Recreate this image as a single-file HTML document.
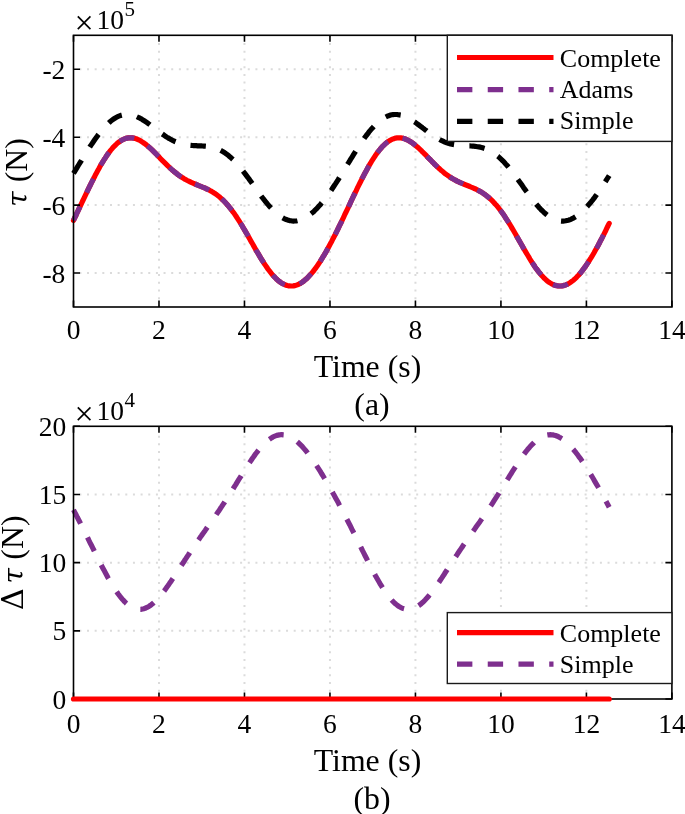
<!DOCTYPE html>
<html><head><meta charset="utf-8"><title>Figure</title>
<style>
html,body{margin:0;padding:0;background:#fff}
svg{display:block}
text{font-family:"Liberation Serif","Times New Roman",serif;fill:#000}
.t{font-size:27.5px}
.lt{font-size:26px}
.l{font-size:31.8px}
.tau{font-family:'DejaVu Serif',serif;font-style:italic;font-size:28px}
.dl{font-family:'DejaVu Serif',serif;font-size:30.5px}
.g{stroke:#dbdbdb;stroke-width:2;fill:none}
.ax{fill:none;stroke:#000;stroke-width:1.6}
.tk{fill:none;stroke:#000;stroke-width:1.6}
.c{fill:none;stroke-width:5.2;stroke-linejoin:round}
.lg{fill:#fff;stroke:#1a1a1a;stroke-width:1.4}
</style></head><body>
<svg width="685" height="814" viewBox="0 0 685 814">
<rect width="685" height="814" fill="#fff"/>
<!-- plot a -->
<line x1="158.99" y1="35.3" x2="158.99" y2="307.0" class="g" stroke-dasharray="2 5.7" stroke-dashoffset="7.6"/>
<line x1="244.47" y1="35.3" x2="244.47" y2="307.0" class="g" stroke-dasharray="2 5.7" stroke-dashoffset="7.6"/>
<line x1="329.96" y1="35.3" x2="329.96" y2="307.0" class="g" stroke-dasharray="2 5.7" stroke-dashoffset="7.6"/>
<line x1="415.44" y1="35.3" x2="415.44" y2="307.0" class="g" stroke-dasharray="2 5.7" stroke-dashoffset="7.6"/>
<line x1="500.93" y1="35.3" x2="500.93" y2="307.0" class="g" stroke-dasharray="2 5.7" stroke-dashoffset="7.6"/>
<line x1="586.41" y1="35.3" x2="586.41" y2="307.0" class="g" stroke-dasharray="2 5.7" stroke-dashoffset="7.6"/>
<line x1="73.5" y1="69.26" x2="671.9" y2="69.26" class="g" stroke-dasharray="2 5.655" stroke-dashoffset="1.8"/>
<line x1="73.5" y1="137.19" x2="671.9" y2="137.19" class="g" stroke-dasharray="2 5.655" stroke-dashoffset="1.8"/>
<line x1="73.5" y1="205.11" x2="671.9" y2="205.11" class="g" stroke-dasharray="2 5.655" stroke-dashoffset="1.8"/>
<line x1="73.5" y1="273.04" x2="671.9" y2="273.04" class="g" stroke-dasharray="2 5.655" stroke-dashoffset="1.8"/>
<polyline points="73.5,220.4 74.8,217.7 76.1,215.0 77.3,212.3 78.6,209.6 79.9,206.9 81.2,204.2 82.4,201.5 83.7,198.8 85.0,196.1 86.3,193.4 87.6,190.7 88.8,188.1 90.1,185.5 91.4,182.9 92.7,180.3 94.0,177.8 95.2,175.3 96.5,172.9 97.8,170.5 99.1,168.2 100.3,165.9 101.6,163.7 102.9,161.6 104.2,159.5 105.5,157.6 106.7,155.7 108.0,153.8 109.3,152.1 110.6,150.4 111.9,148.9 113.1,147.4 114.4,146.1 115.7,144.8 117.0,143.6 118.2,142.6 119.5,141.6 120.8,140.8 122.1,140.0 123.4,139.4 124.6,138.9 125.9,138.4 127.2,138.1 128.5,137.9 129.8,137.8 131.0,137.8 132.3,137.9 133.6,138.1 134.9,138.4 136.1,138.8 137.4,139.3 138.7,139.9 140.0,140.5 141.3,141.3 142.5,142.1 143.8,143.0 145.1,143.9 146.4,144.9 147.7,146.0 148.9,147.1 150.2,148.2 151.5,149.4 152.8,150.7 154.0,151.9 155.3,153.2 156.6,154.5 157.9,155.8 159.2,157.1 160.4,158.5 161.7,159.8 163.0,161.1 164.3,162.4 165.6,163.7 166.8,164.9 168.1,166.2 169.4,167.4 170.7,168.6 171.9,169.7 173.2,170.8 174.5,171.9 175.8,172.9 177.1,173.9 178.3,174.9 179.6,175.8 180.9,176.7 182.2,177.5 183.5,178.3 184.7,179.1 186.0,179.8 187.3,180.5 188.6,181.1 189.8,181.8 191.1,182.3 192.4,182.9 193.7,183.5 195.0,184.0 196.2,184.5 197.5,185.0 198.8,185.6 200.1,186.1 201.4,186.6 202.6,187.1 203.9,187.6 205.2,188.2 206.5,188.8 207.7,189.4 209.0,190.0 210.3,190.7 211.6,191.4 212.9,192.2 214.1,193.0 215.4,193.8 216.7,194.7 218.0,195.7 219.3,196.7 220.5,197.8 221.8,199.0 223.1,200.2 224.4,201.5 225.6,202.8 226.9,204.2 228.2,205.7 229.5,207.3 230.8,208.9 232.0,210.6 233.3,212.3 234.6,214.1 235.9,216.0 237.1,217.9 238.4,219.9 239.7,221.9 241.0,224.0 242.3,226.1 243.5,228.2 244.8,230.4 246.1,232.6 247.4,234.8 248.7,237.1 249.9,239.3 251.2,241.6 252.5,243.8 253.8,246.1 255.0,248.3 256.3,250.6 257.6,252.7 258.9,254.9 260.2,257.1 261.4,259.1 262.7,261.2 264.0,263.2 265.3,265.1 266.6,267.0 267.8,268.8 269.1,270.5 270.4,272.2 271.7,273.8 272.9,275.3 274.2,276.7 275.5,278.0 276.8,279.3 278.1,280.4 279.3,281.4 280.6,282.4 281.9,283.2 283.2,283.9 284.5,284.5 285.7,285.0 287.0,285.5 288.3,285.8 289.6,285.9 290.8,286.0 292.1,286.0 293.4,285.9 294.7,285.6 296.0,285.3 297.2,284.9 298.5,284.3 299.8,283.7 301.1,282.9 302.4,282.1 303.6,281.2 304.9,280.1 306.2,279.0 307.5,277.8 308.7,276.5 310.0,275.1 311.3,273.7 312.6,272.1 313.9,270.5 315.1,268.8 316.4,267.1 317.7,265.2 319.0,263.3 320.3,261.4 321.5,259.3 322.8,257.2 324.1,255.1 325.4,252.9 326.6,250.7 327.9,248.4 329.2,246.0 330.5,243.6 331.8,241.2 333.0,238.7 334.3,236.2 335.6,233.7 336.9,231.1 338.2,228.5 339.4,225.9 340.7,223.3 342.0,220.6 343.3,217.9 344.5,215.2 345.8,212.5 347.1,209.8 348.4,207.1 349.7,204.3 350.9,201.6 352.2,198.9 353.5,196.2 354.8,193.5 356.1,190.9 357.3,188.2 358.6,185.6 359.9,183.0 361.2,180.5 362.4,177.9 363.7,175.5 365.0,173.0 366.3,170.7 367.6,168.3 368.8,166.1 370.1,163.9 371.4,161.7 372.7,159.7 374.0,157.7 375.2,155.8 376.5,153.9 377.8,152.2 379.1,150.5 380.3,149.0 381.6,147.5 382.9,146.1 384.2,144.9 385.5,143.7 386.7,142.6 388.0,141.7 389.3,140.8 390.6,140.1 391.8,139.4 393.1,138.9 394.4,138.5 395.7,138.1 397.0,137.9 398.2,137.8 399.5,137.8 400.8,137.9 402.1,138.1 403.4,138.4 404.6,138.8 405.9,139.3 407.2,139.9 408.5,140.5 409.7,141.2 411.0,142.0 412.3,142.9 413.6,143.9 414.9,144.9 416.1,145.9 417.4,147.0 418.7,148.2 420.0,149.4 421.3,150.6 422.5,151.9 423.8,153.1 425.1,154.4 426.4,155.7 427.6,157.1 428.9,158.4 430.2,159.7 431.5,161.0 432.8,162.3 434.0,163.6 435.3,164.9 436.6,166.1 437.9,167.3 439.2,168.5 440.4,169.6 441.7,170.8 443.0,171.8 444.3,172.9 445.5,173.9 446.8,174.8 448.1,175.8 449.4,176.6 450.7,177.5 451.9,178.3 453.2,179.0 454.5,179.7 455.8,180.4 457.1,181.1 458.3,181.7 459.6,182.3 460.9,182.9 462.2,183.4 463.4,184.0 464.7,184.5 466.0,185.0 467.3,185.5 468.6,186.0 469.8,186.5 471.1,187.1 472.4,187.6 473.7,188.2 475.0,188.7 476.2,189.3 477.5,190.0 478.8,190.7 480.1,191.4 481.3,192.1 482.6,192.9 483.9,193.8 485.2,194.7 486.5,195.7 487.7,196.7 489.0,197.8 490.3,198.9 491.6,200.1 492.9,201.4 494.1,202.7 495.4,204.2 496.7,205.6 498.0,207.2 499.2,208.8 500.5,210.5 501.8,212.2 503.1,214.0 504.4,215.9 505.6,217.8 506.9,219.8 508.2,221.8 509.5,223.9 510.8,226.0 512.0,228.1 513.3,230.3 514.6,232.5 515.9,234.7 517.1,236.9 518.4,239.2 519.7,241.5 521.0,243.7 522.3,246.0 523.5,248.2 524.8,250.4 526.1,252.6 527.4,254.8 528.7,256.9 529.9,259.0 531.2,261.1 532.5,263.1 533.8,265.0 535.0,266.9 536.3,268.7 537.6,270.4 538.9,272.1 540.2,273.7 541.4,275.2 542.7,276.6 544.0,278.0 545.3,279.2 546.5,280.3 547.8,281.4 549.1,282.3 550.4,283.1 551.7,283.9 552.9,284.5 554.2,285.0 555.5,285.4 556.8,285.7 558.1,285.9 559.3,286.0 560.6,286.0 561.9,285.9 563.2,285.7 564.4,285.3 565.7,284.9 567.0,284.4 568.3,283.7 569.6,283.0 570.8,282.1 572.1,281.2 573.4,280.2 574.7,279.1 576.0,277.9 577.2,276.6 578.5,275.2 579.8,273.7 581.1,272.2 582.3,270.6 583.6,268.9 584.9,267.2 586.2,265.3 587.5,263.4 588.7,261.5 590.0,259.4 591.3,257.4 592.6,255.2 593.9,253.0 595.1,250.8 596.4,248.5 597.7,246.2 599.0,243.8 600.2,241.3 601.5,238.9 602.8,236.4 604.1,233.8 605.4,231.3 606.6,228.7 607.9,226.0 609.2,223.4" class="c" stroke="#f00" stroke-linecap="round"/>
<polyline points="73.5,220.4 74.8,217.7 76.1,215.0 77.3,212.3 78.6,209.6 79.9,206.9 81.2,204.2 82.4,201.5 83.7,198.8 85.0,196.1 86.3,193.4 87.6,190.7 88.8,188.1 90.1,185.5 91.4,182.9 92.7,180.3 94.0,177.8 95.2,175.3 96.5,172.9 97.8,170.5 99.1,168.2 100.3,165.9 101.6,163.7 102.9,161.6 104.2,159.5 105.5,157.6 106.7,155.7 108.0,153.8 109.3,152.1 110.6,150.4 111.9,148.9 113.1,147.4 114.4,146.1 115.7,144.8 117.0,143.6 118.2,142.6 119.5,141.6 120.8,140.8 122.1,140.0 123.4,139.4 124.6,138.9 125.9,138.4 127.2,138.1 128.5,137.9 129.8,137.8 131.0,137.8 132.3,137.9 133.6,138.1 134.9,138.4 136.1,138.8 137.4,139.3 138.7,139.9 140.0,140.5 141.3,141.3 142.5,142.1 143.8,143.0 145.1,143.9 146.4,144.9 147.7,146.0 148.9,147.1 150.2,148.2 151.5,149.4 152.8,150.7 154.0,151.9 155.3,153.2 156.6,154.5 157.9,155.8 159.2,157.1 160.4,158.5 161.7,159.8 163.0,161.1 164.3,162.4 165.6,163.7 166.8,164.9 168.1,166.2 169.4,167.4 170.7,168.6 171.9,169.7 173.2,170.8 174.5,171.9 175.8,172.9 177.1,173.9 178.3,174.9 179.6,175.8 180.9,176.7 182.2,177.5 183.5,178.3 184.7,179.1 186.0,179.8 187.3,180.5 188.6,181.1 189.8,181.8 191.1,182.3 192.4,182.9 193.7,183.5 195.0,184.0 196.2,184.5 197.5,185.0 198.8,185.6 200.1,186.1 201.4,186.6 202.6,187.1 203.9,187.6 205.2,188.2 206.5,188.8 207.7,189.4 209.0,190.0 210.3,190.7 211.6,191.4 212.9,192.2 214.1,193.0 215.4,193.8 216.7,194.7 218.0,195.7 219.3,196.7 220.5,197.8 221.8,199.0 223.1,200.2 224.4,201.5 225.6,202.8 226.9,204.2 228.2,205.7 229.5,207.3 230.8,208.9 232.0,210.6 233.3,212.3 234.6,214.1 235.9,216.0 237.1,217.9 238.4,219.9 239.7,221.9 241.0,224.0 242.3,226.1 243.5,228.2 244.8,230.4 246.1,232.6 247.4,234.8 248.7,237.1 249.9,239.3 251.2,241.6 252.5,243.8 253.8,246.1 255.0,248.3 256.3,250.6 257.6,252.7 258.9,254.9 260.2,257.1 261.4,259.1 262.7,261.2 264.0,263.2 265.3,265.1 266.6,267.0 267.8,268.8 269.1,270.5 270.4,272.2 271.7,273.8 272.9,275.3 274.2,276.7 275.5,278.0 276.8,279.3 278.1,280.4 279.3,281.4 280.6,282.4 281.9,283.2 283.2,283.9 284.5,284.5 285.7,285.0 287.0,285.5 288.3,285.8 289.6,285.9 290.8,286.0 292.1,286.0 293.4,285.9 294.7,285.6 296.0,285.3 297.2,284.9 298.5,284.3 299.8,283.7 301.1,282.9 302.4,282.1 303.6,281.2 304.9,280.1 306.2,279.0 307.5,277.8 308.7,276.5 310.0,275.1 311.3,273.7 312.6,272.1 313.9,270.5 315.1,268.8 316.4,267.1 317.7,265.2 319.0,263.3 320.3,261.4 321.5,259.3 322.8,257.2 324.1,255.1 325.4,252.9 326.6,250.7 327.9,248.4 329.2,246.0 330.5,243.6 331.8,241.2 333.0,238.7 334.3,236.2 335.6,233.7 336.9,231.1 338.2,228.5 339.4,225.9 340.7,223.3 342.0,220.6 343.3,217.9 344.5,215.2 345.8,212.5 347.1,209.8 348.4,207.1 349.7,204.3 350.9,201.6 352.2,198.9 353.5,196.2 354.8,193.5 356.1,190.9 357.3,188.2 358.6,185.6 359.9,183.0 361.2,180.5 362.4,177.9 363.7,175.5 365.0,173.0 366.3,170.7 367.6,168.3 368.8,166.1 370.1,163.9 371.4,161.7 372.7,159.7 374.0,157.7 375.2,155.8 376.5,153.9 377.8,152.2 379.1,150.5 380.3,149.0 381.6,147.5 382.9,146.1 384.2,144.9 385.5,143.7 386.7,142.6 388.0,141.7 389.3,140.8 390.6,140.1 391.8,139.4 393.1,138.9 394.4,138.5 395.7,138.1 397.0,137.9 398.2,137.8 399.5,137.8 400.8,137.9 402.1,138.1 403.4,138.4 404.6,138.8 405.9,139.3 407.2,139.9 408.5,140.5 409.7,141.2 411.0,142.0 412.3,142.9 413.6,143.9 414.9,144.9 416.1,145.9 417.4,147.0 418.7,148.2 420.0,149.4 421.3,150.6 422.5,151.9 423.8,153.1 425.1,154.4 426.4,155.7 427.6,157.1 428.9,158.4 430.2,159.7 431.5,161.0 432.8,162.3 434.0,163.6 435.3,164.9 436.6,166.1 437.9,167.3 439.2,168.5 440.4,169.6 441.7,170.8 443.0,171.8 444.3,172.9 445.5,173.9 446.8,174.8 448.1,175.8 449.4,176.6 450.7,177.5 451.9,178.3 453.2,179.0 454.5,179.7 455.8,180.4 457.1,181.1 458.3,181.7 459.6,182.3 460.9,182.9 462.2,183.4 463.4,184.0 464.7,184.5 466.0,185.0 467.3,185.5 468.6,186.0 469.8,186.5 471.1,187.1 472.4,187.6 473.7,188.2 475.0,188.7 476.2,189.3 477.5,190.0 478.8,190.7 480.1,191.4 481.3,192.1 482.6,192.9 483.9,193.8 485.2,194.7 486.5,195.7 487.7,196.7 489.0,197.8 490.3,198.9 491.6,200.1 492.9,201.4 494.1,202.7 495.4,204.2 496.7,205.6 498.0,207.2 499.2,208.8 500.5,210.5 501.8,212.2 503.1,214.0 504.4,215.9 505.6,217.8 506.9,219.8 508.2,221.8 509.5,223.9 510.8,226.0 512.0,228.1 513.3,230.3 514.6,232.5 515.9,234.7 517.1,236.9 518.4,239.2 519.7,241.5 521.0,243.7 522.3,246.0 523.5,248.2 524.8,250.4 526.1,252.6 527.4,254.8 528.7,256.9 529.9,259.0 531.2,261.1 532.5,263.1 533.8,265.0 535.0,266.9 536.3,268.7 537.6,270.4 538.9,272.1 540.2,273.7 541.4,275.2 542.7,276.6 544.0,278.0 545.3,279.2 546.5,280.3 547.8,281.4 549.1,282.3 550.4,283.1 551.7,283.9 552.9,284.5 554.2,285.0 555.5,285.4 556.8,285.7 558.1,285.9 559.3,286.0 560.6,286.0 561.9,285.9 563.2,285.7 564.4,285.3 565.7,284.9 567.0,284.4 568.3,283.7 569.6,283.0 570.8,282.1 572.1,281.2 573.4,280.2 574.7,279.1 576.0,277.9 577.2,276.6 578.5,275.2 579.8,273.7 581.1,272.2 582.3,270.6 583.6,268.9 584.9,267.2 586.2,265.3 587.5,263.4 588.7,261.5 590.0,259.4 591.3,257.4 592.6,255.2 593.9,253.0 595.1,250.8 596.4,248.5 597.7,246.2 599.0,243.8 600.2,241.3 601.5,238.9 602.8,236.4 604.1,233.8 605.4,231.3 606.6,228.7 607.9,226.0 609.2,223.4" class="c" stroke="#7e2f8e" stroke-dasharray="15.37 15.37"/>
<polyline points="73.5,173.3 74.8,171.3 76.1,169.2 77.3,167.1 78.6,165.0 79.9,162.9 81.2,160.8 82.4,158.7 83.7,156.6 85.0,154.6 86.3,152.5 87.6,150.5 88.8,148.5 90.1,146.5 91.4,144.6 92.7,142.7 94.0,140.8 95.2,139.0 96.5,137.2 97.8,135.4 99.1,133.8 100.3,132.1 101.6,130.5 102.9,129.0 104.2,127.6 105.5,126.2 106.7,124.9 108.0,123.6 109.3,122.4 110.6,121.3 111.9,120.3 113.1,119.4 114.4,118.5 115.7,117.7 117.0,117.0 118.2,116.4 119.5,115.9 120.8,115.4 122.1,115.1 123.4,114.8 124.6,114.6 125.9,114.5 127.2,114.5 128.5,114.5 129.8,114.7 131.0,114.9 132.3,115.2 133.6,115.5 134.9,115.9 136.1,116.4 137.4,117.0 138.7,117.6 140.0,118.2 141.3,118.9 142.5,119.7 143.8,120.5 145.1,121.3 146.4,122.2 147.7,123.1 148.9,124.0 150.2,125.0 151.5,125.9 152.8,126.9 154.0,127.9 155.3,128.9 156.6,129.8 157.9,130.8 159.2,131.8 160.4,132.7 161.7,133.6 163.0,134.5 164.3,135.4 165.6,136.3 166.8,137.1 168.1,137.9 169.4,138.6 170.7,139.4 171.9,140.0 173.2,140.7 174.5,141.3 175.8,141.8 177.1,142.3 178.3,142.8 179.6,143.2 180.9,143.6 182.2,143.9 183.5,144.3 184.7,144.5 186.0,144.8 187.3,145.0 188.6,145.1 189.8,145.3 191.1,145.4 192.4,145.5 193.7,145.6 195.0,145.6 196.2,145.7 197.5,145.8 198.8,145.8 200.1,145.9 201.4,145.9 202.6,146.0 203.9,146.1 205.2,146.2 206.5,146.3 207.7,146.5 209.0,146.7 210.3,146.9 211.6,147.1 212.9,147.4 214.1,147.8 215.4,148.2 216.7,148.6 218.0,149.1 219.3,149.7 220.5,150.3 221.8,151.0 223.1,151.7 224.4,152.5 225.6,153.4 226.9,154.3 228.2,155.3 229.5,156.4 230.8,157.5 232.0,158.7 233.3,159.9 234.6,161.2 235.9,162.5 237.1,163.9 238.4,165.4 239.7,166.9 241.0,168.5 242.3,170.1 243.5,171.7 244.8,173.4 246.1,175.1 247.4,176.8 248.7,178.5 249.9,180.3 251.2,182.1 252.5,183.9 253.8,185.7 255.0,187.5 256.3,189.3 257.6,191.1 258.9,192.8 260.2,194.6 261.4,196.3 262.7,198.0 264.0,199.7 265.3,201.3 266.6,202.9 267.8,204.4 269.1,205.9 270.4,207.3 271.7,208.7 272.9,210.0 274.2,211.3 275.5,212.5 276.8,213.6 278.1,214.7 279.3,215.6 280.6,216.5 281.9,217.4 283.2,218.1 284.5,218.8 285.7,219.3 287.0,219.8 288.3,220.2 289.6,220.6 290.8,220.8 292.1,221.0 293.4,221.1 294.7,221.0 296.0,221.0 297.2,220.8 298.5,220.5 299.8,220.2 301.1,219.8 302.4,219.3 303.6,218.7 304.9,218.0 306.2,217.3 307.5,216.5 308.7,215.6 310.0,214.6 311.3,213.6 312.6,212.5 313.9,211.4 315.1,210.1 316.4,208.9 317.7,207.5 319.0,206.1 320.3,204.7 321.5,203.1 322.8,201.6 324.1,200.0 325.4,198.3 326.6,196.6 327.9,194.9 329.2,193.1 330.5,191.2 331.8,189.4 333.0,187.5 334.3,185.5 335.6,183.6 336.9,181.6 338.2,179.6 339.4,177.6 340.7,175.5 342.0,173.5 343.3,171.4 344.5,169.3 345.8,167.2 347.1,165.1 348.4,163.0 349.7,160.9 350.9,158.8 352.2,156.8 353.5,154.7 354.8,152.7 356.1,150.6 357.3,148.6 358.6,146.7 359.9,144.7 361.2,142.8 362.4,140.9 363.7,139.1 365.0,137.3 366.3,135.5 367.6,133.9 368.8,132.2 370.1,130.6 371.4,129.1 372.7,127.7 374.0,126.3 375.2,124.9 376.5,123.7 377.8,122.5 379.1,121.4 380.3,120.4 381.6,119.4 382.9,118.6 384.2,117.8 385.5,117.1 386.7,116.5 388.0,115.9 389.3,115.5 390.6,115.1 391.8,114.8 393.1,114.6 394.4,114.5 395.7,114.5 397.0,114.5 398.2,114.7 399.5,114.9 400.8,115.1 402.1,115.5 403.4,115.9 404.6,116.4 405.9,116.9 407.2,117.5 408.5,118.2 409.7,118.9 411.0,119.6 412.3,120.4 413.6,121.3 414.9,122.1 416.1,123.0 417.4,124.0 418.7,124.9 420.0,125.9 421.3,126.8 422.5,127.8 423.8,128.8 425.1,129.8 426.4,130.7 427.6,131.7 428.9,132.7 430.2,133.6 431.5,134.5 432.8,135.4 434.0,136.2 435.3,137.1 436.6,137.8 437.9,138.6 439.2,139.3 440.4,140.0 441.7,140.6 443.0,141.2 444.3,141.8 445.5,142.3 446.8,142.8 448.1,143.2 449.4,143.6 450.7,143.9 451.9,144.2 453.2,144.5 454.5,144.7 455.8,145.0 457.1,145.1 458.3,145.3 459.6,145.4 460.9,145.5 462.2,145.6 463.4,145.6 464.7,145.7 466.0,145.8 467.3,145.8 468.6,145.9 469.8,145.9 471.1,146.0 472.4,146.1 473.7,146.2 475.0,146.3 476.2,146.5 477.5,146.7 478.8,146.9 480.1,147.1 481.3,147.4 482.6,147.8 483.9,148.2 485.2,148.6 486.5,149.1 487.7,149.7 489.0,150.3 490.3,151.0 491.6,151.7 492.9,152.5 494.1,153.3 495.4,154.3 496.7,155.3 498.0,156.3 499.2,157.4 500.5,158.6 501.8,159.8 503.1,161.1 504.4,162.5 505.6,163.9 506.9,165.3 508.2,166.8 509.5,168.4 510.8,170.0 512.0,171.6 513.3,173.3 514.6,175.0 515.9,176.7 517.1,178.4 518.4,180.2 519.7,182.0 521.0,183.8 522.3,185.6 523.5,187.4 524.8,189.2 526.1,191.0 527.4,192.7 528.7,194.5 529.9,196.2 531.2,197.9 532.5,199.6 533.8,201.2 535.0,202.8 536.3,204.3 537.6,205.8 538.9,207.3 540.2,208.6 541.4,210.0 542.7,211.2 544.0,212.4 545.3,213.5 546.5,214.6 547.8,215.6 549.1,216.5 550.4,217.3 551.7,218.1 552.9,218.7 554.2,219.3 555.5,219.8 556.8,220.2 558.1,220.6 559.3,220.8 560.6,221.0 561.9,221.1 563.2,221.1 564.4,221.0 565.7,220.8 567.0,220.5 568.3,220.2 569.6,219.8 570.8,219.3 572.1,218.7 573.4,218.1 574.7,217.3 576.0,216.5 577.2,215.6 578.5,214.7 579.8,213.7 581.1,212.6 582.3,211.4 583.6,210.2 584.9,208.9 586.2,207.6 587.5,206.2 588.7,204.7 590.0,203.2 591.3,201.7 592.6,200.1 593.9,198.4 595.1,196.7 596.4,195.0 597.7,193.2 599.0,191.3 600.2,189.5 601.5,187.6 602.8,185.7 604.1,183.7 605.4,181.7 606.6,179.7 607.9,177.7 609.2,175.6" class="c" stroke="#000" stroke-dasharray="15.41 15.41"/>
<rect x="73.5" y="35.3" width="598.40" height="271.70" class="ax"/>
<path d="M73.50 307.0v-6.5M73.50 35.3v6.5" class="tk"/>
<text x="73.50" y="339.3" class="t" text-anchor="middle">0</text>
<path d="M158.99 307.0v-6.5M158.99 35.3v6.5" class="tk"/>
<text x="158.99" y="339.3" class="t" text-anchor="middle">2</text>
<path d="M244.47 307.0v-6.5M244.47 35.3v6.5" class="tk"/>
<text x="244.47" y="339.3" class="t" text-anchor="middle">4</text>
<path d="M329.96 307.0v-6.5M329.96 35.3v6.5" class="tk"/>
<text x="329.96" y="339.3" class="t" text-anchor="middle">6</text>
<path d="M415.44 307.0v-6.5M415.44 35.3v6.5" class="tk"/>
<text x="415.44" y="339.3" class="t" text-anchor="middle">8</text>
<path d="M500.93 307.0v-6.5M500.93 35.3v6.5" class="tk"/>
<text x="500.93" y="339.3" class="t" text-anchor="middle">10</text>
<path d="M586.41 307.0v-6.5M586.41 35.3v6.5" class="tk"/>
<text x="586.41" y="339.3" class="t" text-anchor="middle">12</text>
<path d="M671.90 307.0v-6.5M671.90 35.3v6.5" class="tk"/>
<text x="671.90" y="339.3" class="t" text-anchor="middle">14</text>
<path d="M73.5 69.26h6.5M671.9 69.26h-6.5" class="tk"/>
<text x="65.3" y="78.9" class="t" text-anchor="end">-2</text>
<path d="M73.5 137.19h6.5M671.9 137.19h-6.5" class="tk"/>
<text x="65.3" y="146.8" class="t" text-anchor="end">-4</text>
<path d="M73.5 205.11h6.5M671.9 205.11h-6.5" class="tk"/>
<text x="65.3" y="214.7" class="t" text-anchor="end">-6</text>
<path d="M73.5 273.04h6.5M671.9 273.04h-6.5" class="tk"/>
<text x="65.3" y="282.6" class="t" text-anchor="end">-8</text>
<text x="74.6" y="33.9" font-size="34">×</text><text x="96.6" y="29.0" class="t">10<tspan dy="-13.2" dx="0.5" font-size="21">5</tspan></text>
<text class="l" text-anchor="middle" x="367.5" y="376.5">Time (s)</text>
<text class="l" text-anchor="middle" x="372" y="414.8">(a)</text>
<text class="l" transform="translate(27.3 0) rotate(-90)" y="0"><tspan class="tau" x="-206.8">τ</tspan><tspan x="-190.2"> (N)</tspan></text>
<rect x="447.3" y="35.3" width="224.6" height="106.1" class="lg"/>
<line x1="457" x2="553.5" y1="57.5" y2="57.5" class="c" stroke="#f00"/>
<line x1="457" x2="553.5" y1="89.6" y2="89.6" class="c" stroke="#7e2f8e" stroke-dasharray="15.37 15.37"/>
<line x1="457" x2="553.5" y1="121.4" y2="121.4" class="c" stroke="#000" stroke-dasharray="15.37 15.37"/>
<text class="lt" x="559.8" y="66.5">Complete</text>
<text class="lt" x="559.8" y="98.0">Adams</text>
<text class="lt" x="559.8" y="129.3">Simple</text>
<!-- plot b -->
<line x1="158.99" y1="426.3" x2="158.99" y2="699.0" class="g" stroke-dasharray="2 5.7" stroke-dashoffset="6.05"/>
<line x1="244.47" y1="426.3" x2="244.47" y2="699.0" class="g" stroke-dasharray="2 5.7" stroke-dashoffset="6.05"/>
<line x1="329.96" y1="426.3" x2="329.96" y2="699.0" class="g" stroke-dasharray="2 5.7" stroke-dashoffset="6.05"/>
<line x1="415.44" y1="426.3" x2="415.44" y2="699.0" class="g" stroke-dasharray="2 5.7" stroke-dashoffset="6.05"/>
<line x1="500.93" y1="426.3" x2="500.93" y2="699.0" class="g" stroke-dasharray="2 5.7" stroke-dashoffset="6.05"/>
<line x1="586.41" y1="426.3" x2="586.41" y2="699.0" class="g" stroke-dasharray="2 5.7" stroke-dashoffset="6.05"/>
<line x1="73.5" y1="630.83" x2="671.9" y2="630.83" class="g" stroke-dasharray="2 5.655" stroke-dashoffset="1.8"/>
<line x1="73.5" y1="562.65" x2="671.9" y2="562.65" class="g" stroke-dasharray="2 5.655" stroke-dashoffset="1.8"/>
<line x1="73.5" y1="494.48" x2="671.9" y2="494.48" class="g" stroke-dasharray="2 5.655" stroke-dashoffset="1.8"/>
<polyline points="73.5,509.9 74.8,512.4 76.1,514.8 77.3,517.3 78.6,519.8 79.9,522.3 81.2,524.8 82.4,527.4 83.7,529.9 85.0,532.5 86.3,535.0 87.6,537.6 88.8,540.2 90.1,542.8 91.4,545.3 92.7,547.9 94.0,550.5 95.2,553.1 96.5,555.6 97.8,558.2 99.1,560.7 100.3,563.2 101.6,565.7 102.9,568.2 104.2,570.6 105.5,573.0 106.7,575.3 108.0,577.7 109.3,579.9 110.6,582.1 111.9,584.3 113.1,586.4 114.4,588.4 115.7,590.3 117.0,592.2 118.2,594.0 119.5,595.7 120.8,597.3 122.1,598.9 123.4,600.3 124.6,601.7 125.9,602.9 127.2,604.0 128.5,605.1 129.8,606.0 131.0,606.8 132.3,607.5 133.6,608.1 134.9,608.6 136.1,609.0 137.4,609.2 138.7,609.3 140.0,609.3 141.3,609.3 142.5,609.0 143.8,608.7 145.1,608.3 146.4,607.7 147.7,607.1 148.9,606.4 150.2,605.5 151.5,604.6 152.8,603.5 154.0,602.4 155.3,601.2 156.6,599.9 157.9,598.6 159.2,597.1 160.4,595.6 161.7,594.1 163.0,592.4 164.3,590.8 165.6,589.0 166.8,587.3 168.1,585.5 169.4,583.6 170.7,581.8 171.9,579.9 173.2,578.0 174.5,576.0 175.8,574.1 177.1,572.1 178.3,570.1 179.6,568.2 180.9,566.2 182.2,564.2 183.5,562.3 184.7,560.3 186.0,558.4 187.3,556.4 188.6,554.5 189.8,552.6 191.1,550.7 192.4,548.8 193.7,546.9 195.0,545.0 196.2,543.1 197.5,541.3 198.8,539.5 200.1,537.6 201.4,535.8 202.6,534.0 203.9,532.2 205.2,530.4 206.5,528.5 207.7,526.7 209.0,524.9 210.3,523.1 211.6,521.3 212.9,519.5 214.1,517.6 215.4,515.8 216.7,513.9 218.0,512.1 219.3,510.2 220.5,508.3 221.8,506.4 223.1,504.4 224.4,502.5 225.6,500.5 226.9,498.6 228.2,496.6 229.5,494.6 230.8,492.5 232.0,490.5 233.3,488.5 234.6,486.4 235.9,484.4 237.1,482.3 238.4,480.2 239.7,478.2 241.0,476.1 242.3,474.0 243.5,472.0 244.8,470.0 246.1,468.0 247.4,466.0 248.7,464.0 249.9,462.1 251.2,460.2 252.5,458.3 253.8,456.5 255.0,454.7 256.3,453.0 257.6,451.3 258.9,449.7 260.2,448.2 261.4,446.7 262.7,445.3 264.0,444.0 265.3,442.7 266.6,441.6 267.8,440.5 269.1,439.5 270.4,438.6 271.7,437.8 272.9,437.0 274.2,436.4 275.5,435.9 276.8,435.4 278.1,435.1 279.3,434.9 280.6,434.7 281.9,434.7 283.2,434.8 284.5,434.9 285.7,435.2 287.0,435.6 288.3,436.0 289.6,436.6 290.8,437.2 292.1,437.9 293.4,438.8 294.7,439.7 296.0,440.6 297.2,441.7 298.5,442.8 299.8,444.1 301.1,445.4 302.4,446.7 303.6,448.1 304.9,449.6 306.2,451.2 307.5,452.8 308.7,454.4 310.0,456.2 311.3,457.9 312.6,459.7 313.9,461.6 315.1,463.5 316.4,465.4 317.7,467.4 319.0,469.4 320.3,471.4 321.5,473.5 322.8,475.5 324.1,477.7 325.4,479.8 326.6,482.0 327.9,484.2 329.2,486.4 330.5,488.7 331.8,490.9 333.0,493.2 334.3,495.5 335.6,497.9 336.9,500.2 338.2,502.6 339.4,505.0 340.7,507.4 342.0,509.8 343.3,512.2 344.5,514.7 345.8,517.2 347.1,519.7 348.4,522.2 349.7,524.7 350.9,527.2 352.2,529.8 353.5,532.3 354.8,534.9 356.1,537.5 357.3,540.0 358.6,542.6 359.9,545.2 361.2,547.8 362.4,550.4 363.7,552.9 365.0,555.5 366.3,558.0 367.6,560.6 368.8,563.1 370.1,565.6 371.4,568.0 372.7,570.5 374.0,572.9 375.2,575.2 376.5,577.5 377.8,579.8 379.1,582.0 380.3,584.1 381.6,586.2 382.9,588.3 384.2,590.2 385.5,592.1 386.7,593.9 388.0,595.6 389.3,597.3 390.6,598.8 391.8,600.2 393.1,601.6 394.4,602.8 395.7,604.0 397.0,605.0 398.2,606.0 399.5,606.8 400.8,607.5 402.1,608.1 403.4,608.6 404.6,608.9 405.9,609.2 407.2,609.3 408.5,609.4 409.7,609.3 411.0,609.1 412.3,608.7 413.6,608.3 414.9,607.8 416.1,607.1 417.4,606.4 418.7,605.6 420.0,604.6 421.3,603.6 422.5,602.5 423.8,601.3 425.1,600.0 426.4,598.6 427.6,597.2 428.9,595.7 430.2,594.2 431.5,592.5 432.8,590.9 434.0,589.1 435.3,587.4 436.6,585.6 437.9,583.7 439.2,581.9 440.4,580.0 441.7,578.1 443.0,576.1 444.3,574.2 445.5,572.2 446.8,570.3 448.1,568.3 449.4,566.3 450.7,564.4 451.9,562.4 453.2,560.4 454.5,558.5 455.8,556.5 457.1,554.6 458.3,552.7 459.6,550.8 460.9,548.9 462.2,547.0 463.4,545.1 464.7,543.3 466.0,541.4 467.3,539.6 468.6,537.7 469.8,535.9 471.1,534.1 472.4,532.3 473.7,530.5 475.0,528.6 476.2,526.8 477.5,525.0 478.8,523.2 480.1,521.4 481.3,519.6 482.6,517.7 483.9,515.9 485.2,514.0 486.5,512.2 487.7,510.3 489.0,508.4 490.3,506.5 491.6,504.6 492.9,502.6 494.1,500.7 495.4,498.7 496.7,496.7 498.0,494.7 499.2,492.7 500.5,490.6 501.8,488.6 503.1,486.5 504.4,484.5 505.6,482.4 506.9,480.3 508.2,478.3 509.5,476.2 510.8,474.2 512.0,472.1 513.3,470.1 514.6,468.1 515.9,466.1 517.1,464.1 518.4,462.2 519.7,460.3 521.0,458.4 522.3,456.6 523.5,454.8 524.8,453.1 526.1,451.4 527.4,449.8 528.7,448.3 529.9,446.8 531.2,445.4 532.5,444.1 533.8,442.8 535.0,441.6 536.3,440.5 537.6,439.5 538.9,438.6 540.2,437.8 541.4,437.1 542.7,436.4 544.0,435.9 545.3,435.5 546.5,435.1 547.8,434.9 549.1,434.8 550.4,434.7 551.7,434.8 552.9,434.9 554.2,435.2 555.5,435.5 556.8,436.0 558.1,436.5 559.3,437.2 560.6,437.9 561.9,438.7 563.2,439.6 564.4,440.6 565.7,441.6 567.0,442.8 568.3,444.0 569.6,445.3 570.8,446.6 572.1,448.1 573.4,449.5 574.7,451.1 576.0,452.7 577.2,454.3 578.5,456.1 579.8,457.8 581.1,459.6 582.3,461.5 583.6,463.3 584.9,465.3 586.2,467.2 587.5,469.2 588.7,471.3 590.0,473.3 591.3,475.4 592.6,477.5 593.9,479.7 595.1,481.9 596.4,484.1 597.7,486.3 599.0,488.5 600.2,490.8 601.5,493.1 602.8,495.4 604.1,497.7 605.4,500.1 606.6,502.4 607.9,504.8 609.2,507.2" class="c" stroke="#7e2f8e" stroke-dasharray="15.42 15.42"/>
<rect x="73.5" y="426.3" width="598.40" height="272.70" class="ax"/>
<path d="M73.50 699.0v-6.5M73.50 426.3v6.5" class="tk"/>
<text x="73.50" y="732.7" class="t" text-anchor="middle">0</text>
<path d="M158.99 699.0v-6.5M158.99 426.3v6.5" class="tk"/>
<text x="158.99" y="732.7" class="t" text-anchor="middle">2</text>
<path d="M244.47 699.0v-6.5M244.47 426.3v6.5" class="tk"/>
<text x="244.47" y="732.7" class="t" text-anchor="middle">4</text>
<path d="M329.96 699.0v-6.5M329.96 426.3v6.5" class="tk"/>
<text x="329.96" y="732.7" class="t" text-anchor="middle">6</text>
<path d="M415.44 699.0v-6.5M415.44 426.3v6.5" class="tk"/>
<text x="415.44" y="732.7" class="t" text-anchor="middle">8</text>
<path d="M500.93 699.0v-6.5M500.93 426.3v6.5" class="tk"/>
<text x="500.93" y="732.7" class="t" text-anchor="middle">10</text>
<path d="M586.41 699.0v-6.5M586.41 426.3v6.5" class="tk"/>
<text x="586.41" y="732.7" class="t" text-anchor="middle">12</text>
<path d="M671.90 699.0v-6.5M671.90 426.3v6.5" class="tk"/>
<text x="671.90" y="732.7" class="t" text-anchor="middle">14</text>
<path d="M73.5 699.00h6.5M671.9 699.00h-6.5" class="tk"/>
<text x="66.2" y="708.6" class="t" text-anchor="end">0</text>
<path d="M73.5 630.83h6.5M671.9 630.83h-6.5" class="tk"/>
<text x="66.2" y="640.4" class="t" text-anchor="end">5</text>
<path d="M73.5 562.65h6.5M671.9 562.65h-6.5" class="tk"/>
<text x="66.2" y="572.2" class="t" text-anchor="end">10</text>
<path d="M73.5 494.48h6.5M671.9 494.48h-6.5" class="tk"/>
<text x="66.2" y="504.1" class="t" text-anchor="end">15</text>
<path d="M73.5 426.30h6.5M671.9 426.30h-6.5" class="tk"/>
<text x="66.2" y="435.9" class="t" text-anchor="end">20</text>
<line x1="73.5" x2="609.2" y1="699.0" y2="699.0" class="c" stroke="#f00" stroke-linecap="round"/>
<text x="74.6" y="424.9" font-size="34">×</text><text x="96.6" y="420.0" class="t">10<tspan dy="-13.2" dx="0.5" font-size="21">4</tspan></text>
<text class="l" text-anchor="middle" x="367.5" y="770.6">Time (s)</text>
<text class="l" text-anchor="middle" x="372" y="808.5">(b)</text>
<text class="l" transform="translate(23.3 0) rotate(-90)" y="0"><tspan class="dl" x="-610.2">Δ</tspan><tspan class="tau" x="-583.6">τ</tspan><tspan x="-567.6"> (N)</tspan></text>
<rect x="447.3" y="612.6" width="224.6" height="70.9" class="lg"/>
<line x1="457" x2="553.5" y1="632.6" y2="632.6" class="c" stroke="#f00"/>
<line x1="457" x2="553.5" y1="664.1" y2="664.1" class="c" stroke="#7e2f8e" stroke-dasharray="15.37 15.37"/>
<text class="lt" x="559.8" y="641.7">Complete</text>
<text class="lt" x="559.8" y="672.8">Simple</text>
</svg>
</body></html>
